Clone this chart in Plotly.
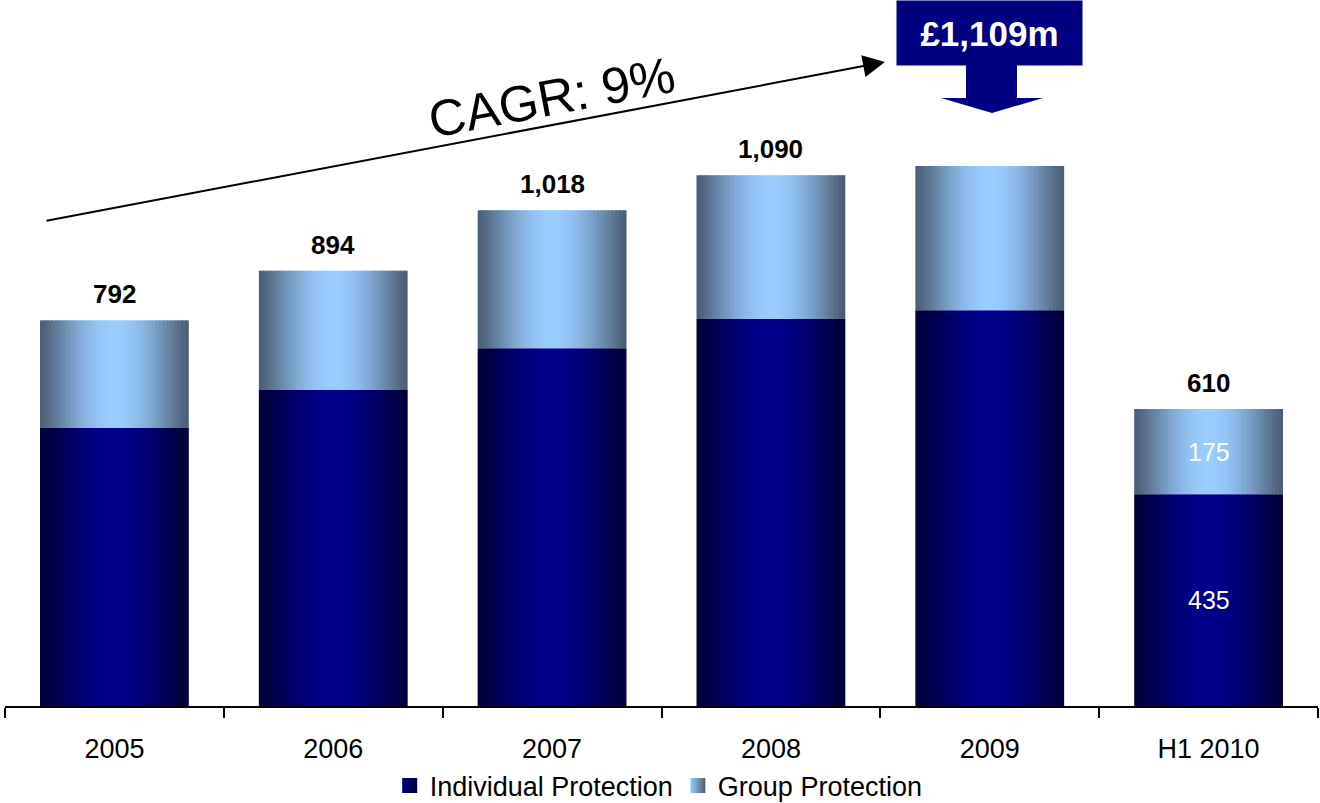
import math
import plotly.graph_objects as go

# Protection new business by year (£m)
years = ["2005", "2006", "2007", "2008", "2009", "H1 2010"]
individual = [571, 649, 735, 795, 813, 435]
group = [221, 245, 283, 295, 296, 175]
totals = [i + g for i, g in zip(individual, group)]

# Which totals are written above the bars, and which bar gets the callout box
show_total = [True, True, True, True, False, True]
callout_idx = 4
inner_label_idx = 5

FONT = "Liberation Sans, Arial, sans-serif"
W, H = 1320, 803
M_L, M_R, M_T, M_B = 5, 2, 0, 97
PLOT_W = W - M_L - M_R
PLOT_H = H - M_T - M_B

BAR_W = 0.68
N_SLICES = 40

IND_EDGE, IND_MID = (0, 0, 56), (0, 0, 138)
GRP_EDGE, GRP_MID = (74, 94, 117), (153, 204, 255)


def rgb(c):
    return "rgb({},{},{})".format(*c)


def shade(edge, mid, u):
    t = math.sin(math.pi * u) ** 1.2
    return rgb(tuple(round(e + (m - e) * t) for e, m in zip(edge, mid)))


def px_x(px):
    return (px - M_L) / PLOT_W


def px_y(py):
    return (M_T + PLOT_H - py) / PLOT_H


xs = list(range(len(years)))
fig = go.Figure()

# Cylinder-style shading: each stacked segment is drawn as thin vertical slices
step = BAR_W / N_SLICES
for series, base, edge, mid in (
    (individual, [0] * len(years), IND_EDGE, IND_MID),
    (group, individual, GRP_EDGE, GRP_MID),
):
    for k in range(N_SLICES):
        u = (k + 0.5) / N_SLICES
        w = step * 1.4 if k < N_SLICES - 1 else step
        fig.add_trace(go.Bar(
            x=xs, y=series, base=base,
            offset=-BAR_W / 2 + k * step, width=w,
            marker=dict(color=shade(edge, mid, u), line=dict(width=0)),
            showlegend=False, hoverinfo="skip",
        ))

# Legend entries (shaded square swatches)
for name, edge, mid in (("Individual Protection", IND_EDGE, IND_MID),
                        ("Group Protection", GRP_EDGE, GRP_MID)):
    fig.add_trace(go.Scatter(
        x=[None], y=[None], mode="markers", name=name,
        marker=dict(symbol="square", size=15, color=rgb(mid),
                    gradient=dict(type="horizontal", color=rgb(edge)),
                    line=dict(width=0)),
    ))

annotations = []
for i in xs:
    if show_total[i]:
        annotations.append(dict(
            x=i, y=totals[i], xref="x", yref="y",
            xanchor="center", yanchor="bottom",
            text=f"<b>{totals[i]:,}</b>", showarrow=False, yshift=9,
            font=dict(family=FONT, size=26, color="black"),
        ))

# Segment values inside the last bar
j = inner_label_idx
annotations.append(dict(
    x=j, y=individual[j] / 2, xref="x", yref="y",
    xanchor="center", yanchor="middle",
    text=f"{individual[j]}", showarrow=False,
    font=dict(family=FONT, size=25, color="white"),
))
annotations.append(dict(
    x=j, y=individual[j] + group[j] / 2, xref="x", yref="y",
    xanchor="center", yanchor="middle",
    text=f"{group[j]}", showarrow=False,
    font=dict(family=FONT, size=25, color="white"),
))

# Growth arrow and label
annotations.append(dict(
    x=px_x(885), y=px_y(62), xref="paper", yref="paper",
    ax=45 - 885, ay=221 - 62, axref="pixel", ayref="pixel",
    text="", showarrow=True, arrowhead=2, arrowsize=2.2, arrowwidth=2,
    arrowcolor="black", standoff=0, startstandoff=0,
))
annotations.append(dict(
    x=px_x(551), y=px_y(97), xref="paper", yref="paper",
    xanchor="center", yanchor="middle",
    text="CAGR: 9%", showarrow=False, textangle=-10.8,
    font=dict(family=FONT, size=51, color="black"),
))

# Callout box for the 2009 total
annotations.append(dict(
    x=callout_idx, y=1.0, xref="x", yref="paper",
    yanchor="top", xanchor="center",
    text=f"<b>£{totals[callout_idx]:,}m</b>", showarrow=False,
    bgcolor="rgb(0,0,128)", width=183, height=62, borderpad=1,
    font=dict(family=FONT, size=35, color="white"),
))

shapes = [dict(
    type="path", xref="paper", yref="paper",
    path=(f"M {px_x(966)} {px_y(62)} L {px_x(1017)} {px_y(62)} "
          f"L {px_x(1017)} {px_y(98)} L {px_x(1043)} {px_y(98)} "
          f"L {px_x(992)} {px_y(113)} L {px_x(941)} {px_y(98)} "
          f"L {px_x(966)} {px_y(98)} Z"),
    fillcolor="rgb(0,0,128)", line=dict(width=0),
)]

fig.update_layout(
    width=W, height=H,
    margin=dict(l=M_L, r=M_R, t=M_T, b=M_B, autoexpand=False),
    paper_bgcolor="white", plot_bgcolor="white",
    barmode="overlay",
    showlegend=True,
    legend=dict(orientation="h", x=0.499, xanchor="center",
                xref="container", yref="container",
                y=(H - 786) / H, yanchor="middle",
                bgcolor="rgba(0,0,0,0)",
                font=dict(family=FONT, size=27, color="black"),
                itemwidth=30, tracegroupgap=0),
    xaxis=dict(
        range=[-0.5, len(years) - 0.5],
        tickmode="array", tickvals=xs, ticktext=years,
        showline=True, linecolor="black", linewidth=2,
        ticks="", showgrid=False, zeroline=False, automargin=False,
        ticklabelstandoff=18,
        tickfont=dict(family=FONT, size=27, color="black"),
        minor=dict(tickmode="array",
                   tickvals=[x - 0.5 for x in xs] + [xs[-1] + 0.5],
                   ticks="outside", ticklen=10, tickwidth=2,
                   tickcolor="black", showgrid=False),
    ),
    yaxis=dict(range=[0, 1450], visible=False, showgrid=False,
               zeroline=False, automargin=False),
    annotations=annotations,
    shapes=shapes,
)

fig.write_html("out.html")
